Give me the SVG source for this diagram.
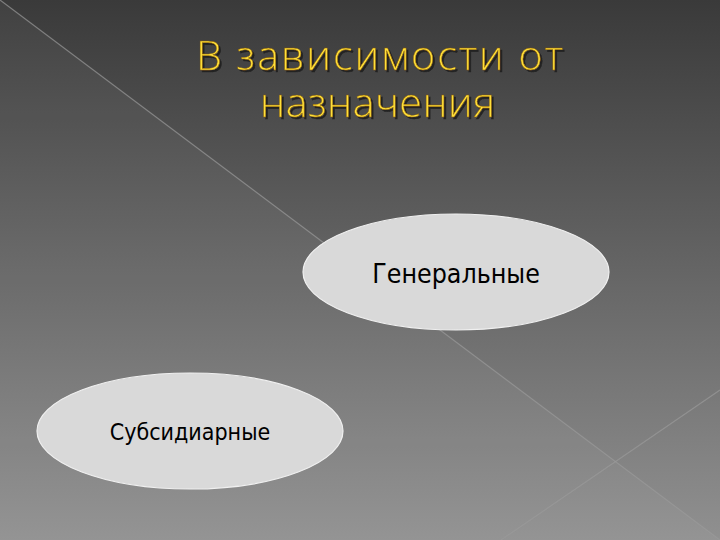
<svg xmlns="http://www.w3.org/2000/svg" width="720" height="540" viewBox="0 0 720 540">
  <defs>
    <linearGradient id="bg" x1="0" y1="0" x2="0" y2="1">
      <stop offset="0" stop-color="#3a3a3a"/>
      <stop offset="1" stop-color="#909090"/>
    </linearGradient>
    <filter id="sh" x="-10%" y="-20%" width="120%" height="140%">
      <feDropShadow dx="2" dy="2" stdDeviation="0.6" flood-color="#1a1a1a" flood-opacity="0.9"/>
    </filter>
  </defs>
  <style>
    .title { font-family: "Open Sans", "Liberation Sans", sans-serif; font-weight: 300; font-size: 41px; fill: #ffe03a; stroke: #8a5a00; stroke-width: 0.4px; }
    .node { fill: #d9d9d9; stroke: #f0f0f0; stroke-width: 1.2; }
    .label { font-family: "DejaVu Sans Condensed", "Liberation Sans", sans-serif; fill: #000; }
    .deco { stroke: #9a9a9a; stroke-width: 1.2; stroke-opacity: 0.7; fill: none; }
  </style>
  <rect x="0" y="0" width="720" height="540" fill="url(#bg)"/>
  <polygon points="0,0 720,540 0,540" fill="#ffffff" fill-opacity="0.04"/>
  <g id="decor">
    <line class="deco" x1="0" y1="0" x2="720" y2="540"/>
    <line class="deco" x1="501" y1="540" x2="720" y2="390"/>
  </g>
  <g id="title" filter="url(#sh)">
    <text class="title" x="196" y="70" textLength="367" lengthAdjust="spacing">В зависимости от</text>
    <text class="title" x="260" y="117" textLength="235" lengthAdjust="spacing">назначения</text>
  </g>
  <g id="connectors"></g>
  <g id="node-general">
    <ellipse class="node" cx="456" cy="272" rx="153" ry="58"/>
    <text class="label" x="456" y="283" text-anchor="middle" font-size="26.5">Генеральные</text>
  </g>
  <g id="node-subsidiary">
    <ellipse class="node" cx="190" cy="431" rx="153" ry="58"/>
    <text class="label" x="190" y="440" text-anchor="middle" font-size="23">Субсидиарные</text>
  </g>
</svg>
